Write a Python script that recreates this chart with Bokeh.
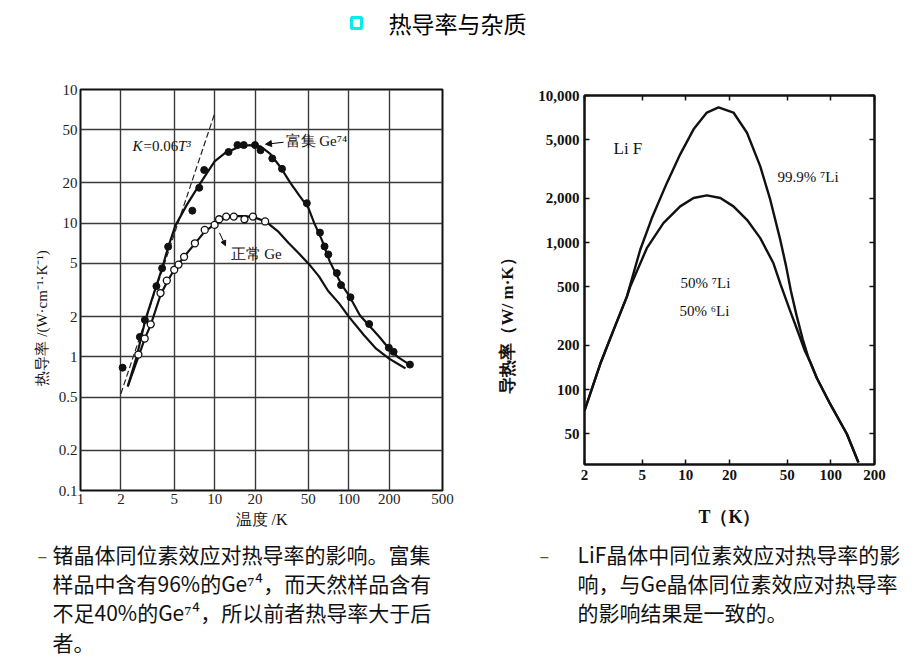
import math
from bokeh.plotting import figure
from bokeh.layouts import column, row
from bokeh.models import Range1d, FixedTicker, LogAxis, Label, Arrow, NormalHead, Title
from bokeh.core.properties import value
from bokeh.embed import file_html
from bokeh.resources import INLINE

# ---------------- data ----------------
title_text = "热导率与杂质"

# Left chart: Ge thermal conductivity (W/cm/K) vs temperature (K)
ge_x_ticks = [1, 2, 5, 10, 20, 50, 100, 200, 500]
ge_y_ticks = [0.1, 0.2, 0.5, 1, 2, 5, 10, 20, 50, 100]
ge_y_labels = ["0.1", "0.2", "0.5", "1", "2", "5", "10", "20", "50", "10"]

rich_dots_T = [2.06, 2.77, 3.02, 3.68, 4.06, 4.5, 6.82, 7.68, 8.36, 12.7, 14.8, 16.5, 20, 22,
               26.9, 31.8, 48.7, 61, 66, 70.4, 81.5, 87.6, 103, 142, 199, 216, 286]
rich_dots_K = [0.83, 1.41, 1.89, 3.38, 4.6, 6.67, 12.4, 18.4, 25, 34.1, 38.4, 38.4, 38.4, 35.1,
               30.5, 25.5, 14.1, 8.5, 6.7, 5.84, 4.23, 3.44, 2.79, 1.76, 1.17, 1.09, 0.875]

normal_dots_T = [2.7, 3.01, 3.34, 3.95, 4.4, 5.0, 5.38, 5.92, 7.13, 8.44, 10, 10.8, 12.2, 13.9,
                 16.7, 19.3, 23.8]
normal_dots_K = [1.04, 1.37, 1.75, 3.0, 3.72, 4.48, 4.9, 5.6, 7.07, 8.9, 9.7, 10.7, 11.2, 11.2,
                 10.7, 11.2, 10.3]

rich_curve_T = [2.25, 2.62, 3.05, 3.6, 4.06, 4.5, 5.08, 6.2, 7.85, 10, 12, 15, 18, 22, 26, 31,
                36.7, 43, 50, 55.3, 63, 72, 80, 88, 100, 121, 143, 170, 200, 231, 286]
rich_curve_K = [0.6, 1.0, 1.9, 3.2, 4.6, 6.6, 9.5, 13.7, 20, 29, 33.5, 37, 38.3, 37.5, 33, 26.2,
                20, 16, 13, 10, 7.5, 5.2, 4.2, 3.5, 2.9, 2.05, 1.7, 1.4, 1.15, 1.0, 0.87]

normal_curve_T = [2.25, 2.7, 3.0, 3.35, 3.95, 4.4, 5.0, 6.0, 7.1, 8.4, 10, 12, 14, 17, 20, 24,
                  30, 35.6, 42, 50, 60, 70, 85, 100, 130, 160, 200, 235, 265]
normal_curve_K = [0.6, 1.0, 1.35, 1.75, 2.9, 3.6, 4.5, 5.7, 7.0, 8.6, 9.8, 10.9, 11.3, 11.3, 11.0,
                  10.3, 8.6, 7.1, 6.0, 5.0, 4.0, 3.12, 2.5, 2.0, 1.45, 1.15, 0.97, 0.88, 0.82]

t3_line_T = [2, 10]
t3_line_K = [0.53, 66]

# Right chart: LiF thermal conductivity (W/m/K) vs T (K)
lif_x_ticks = [2, 5, 10, 20, 50, 100, 200]
lif_y_ticks = [50, 100, 200, 500, 1000, 2000, 5000, 10000]
lif_y_labels = ["50", "100", "200", "500", "1,000", "2,000", "5,000", "10,000"]

li7_T = [2.0, 2.57, 3.17, 3.92, 4.84, 5.83, 7.4, 9.14, 11.3, 13.96, 16.8, 21.3, 26.4, 32.6,
         38.2, 44.8, 49, 53, 58, 64, 70, 80, 98.9, 129, 155]
li7_K = [72, 150, 254, 429, 891, 1468, 2546, 3980, 5890, 7660, 8300, 7660, 5580, 3300,
         1958, 1043, 700, 470, 320, 220, 165, 120, 80, 50, 32]

li50_T = [2.0, 2.57, 3.17, 3.92, 4.13, 5.38, 7.0, 9.14, 11.3, 13.96, 17.3, 21.3, 26.4, 32.6,
          40.2, 45, 52, 60, 66, 72, 80, 98.9, 129, 155]
li50_K = [72, 150, 254, 429, 500, 916, 1357, 1763, 2011, 2094, 2011, 1763, 1429, 1072,
          723, 520, 350, 240, 185, 155, 120, 80, 50, 32]

left_lines = ["锗晶体同位素效应对热导率的影响。富集",
              "样品中含有96%的Ge⁷⁴，而天然样品含有",
              "不足40%的Ge⁷⁴，所以前者热导率大于后",
              "者。"]
right_lines = ["LiF晶体中同位素效应对热导率的影",
               "响，与Ge晶体同位素效应对热导率",
               "的影响结果是一致的。"]

SERIF = "Liberation Serif"
CJK = "Noto Sans CJK SC"

# ---------------- title strip ----------------
t = figure(width=923, height=70, x_range=Range1d(0, 923), y_range=Range1d(70, 0),
           output_backend="svg", toolbar_location=None, min_border=0,
           x_axis_type=None, y_axis_type=None)
t.outline_line_color = None
t.rect(x=[356], y=[22.5], width=10, height=11, fill_color="white",
       line_color="#00eeee", line_width=3)
t.text(x=[388], y=[22], text=[title_text], text_font=value(CJK), text_font_size="23px",
       text_baseline="middle", text_align="left", text_color="black")

# ---------------- left chart ----------------
p1 = figure(width=470, height=460, x_axis_type="log", y_axis_type="log",
            x_range=Range1d(1, 500), y_range=Range1d(0.1, 100),
            output_backend="svg", toolbar_location=None,
            min_border_left=80, min_border_right=28, min_border_top=19, min_border_bottom=38)
p1.xaxis.ticker = FixedTicker(ticks=ge_x_ticks)
p1.yaxis.ticker = FixedTicker(ticks=ge_y_ticks)
p1.xgrid.ticker = FixedTicker(ticks=ge_x_ticks)
p1.ygrid.ticker = FixedTicker(ticks=ge_y_ticks)
p1.xaxis.major_label_overrides = {v: str(v) for v in ge_x_ticks}
p1.yaxis.major_label_overrides = dict(zip(ge_y_ticks, ge_y_labels))
for ax in (p1.xaxis[0], p1.yaxis[0]):
    ax.major_tick_line_color = None
    ax.minor_tick_line_color = None
    ax.major_tick_in = 0
    ax.major_tick_out = 0
    ax.axis_line_color = None
    ax.major_label_text_font = SERIF
    ax.major_label_text_font_size = "15px"
    ax.major_label_text_color = "#222222"
    ax.major_label_standoff = 3
    ax.axis_label_text_font = SERIF
    ax.axis_label_text_font_style = "normal"
    ax.axis_label_text_color = "#111111"
p1.xaxis[0].axis_label = "温度 /K"
p1.xaxis[0].axis_label_text_font_size = "16px"
p1.xaxis[0].axis_label_standoff = 4
p1.add_layout(Title(text="热导率 /(W·cm⁻¹·K⁻¹)", align="left", offset=105, standoff=11,
                    text_font=SERIF, text_font_size="15px", text_font_style="normal",
                    text_color="#111111"), "left")
for g in (p1.xgrid, p1.ygrid):
    g.grid_line_color = "#3a3a3a"
    g.grid_line_width = 1.4
    g.minor_grid_line_color = None
p1.outline_line_color = "#111111"
p1.outline_line_width = 2

p1.line(t3_line_T, t3_line_K, line_color="#222222", line_width=1.2, line_dash="6 3")
p1.line(rich_curve_T, rich_curve_K, line_color="#111111", line_width=2.2)
p1.line(normal_curve_T, normal_curve_K, line_color="#111111", line_width=2.2)
p1.scatter(rich_dots_T, rich_dots_K, size=7, fill_color="#111111", line_color="#111111")
p1.scatter(normal_dots_T, normal_dots_K, size=7, fill_color="white", line_color="#111111",
           line_width=1.3)


def l_xy(px, py):
    fx = (px - 80) / 362.0
    fy = (492 - py) / 403.0
    return 10 ** (fx * math.log10(500)), 10 ** (-1 + 3 * fy)


def add_label(p, xy, text, size="15px", font=SERIF, style="normal", align="left"):
    p.add_layout(Label(x=xy[0], y=xy[1], text=text, text_font=font, text_font_size=size,
                       text_font_style=style, text_align=align, text_baseline="middle",
                       text_color="#111111"))


add_label(p1, l_xy(132, 146), "K", style="italic")
add_label(p1, l_xy(143, 146), "=0.06")
add_label(p1, l_xy(177.5, 146), "T³", style="italic")
add_label(p1, l_xy(285, 141), "富集 Ge⁷⁴")
add_label(p1, l_xy(230, 254), "正常 Ge")
s = l_xy(283, 142)
e = l_xy(265, 144)
p1.add_layout(Arrow(x_start=s[0], y_start=s[1], x_end=e[0], y_end=e[1], line_width=1.2,
                    end=NormalHead(size=6, fill_color="#111111", line_color="#111111")))
s = l_xy(219, 233)
e = l_xy(225, 246)
p1.add_layout(Arrow(x_start=s[0], y_start=s[1], x_end=e[0], y_end=e[1], line_width=1,
                    end=NormalHead(size=5, fill_color="#111111", line_color="#111111")))

# ---------------- right chart ----------------
p2 = figure(width=453, height=460, x_axis_type="log", y_axis_type="log",
            x_range=Range1d(2, 200), y_range=Range1d(31, 10000),
            output_backend="svg", toolbar_location=None,
            min_border_left=114, min_border_right=49, min_border_top=25, min_border_bottom=66)
p2.grid.visible = False
bottom_ax = p2.below[0]
left_ax = p2.left[0]
bottom_ax.ticker = FixedTicker(ticks=lif_x_ticks)
left_ax.ticker = FixedTicker(ticks=lif_y_ticks)
bottom_ax.major_label_overrides = {v: str(v) for v in lif_x_ticks}
left_ax.major_label_overrides = dict(zip(lif_y_ticks, lif_y_labels))
top_ax = LogAxis(ticker=FixedTicker(ticks=lif_x_ticks),
                 major_label_overrides={v: "" for v in lif_x_ticks})
right_ax = LogAxis(ticker=FixedTicker(ticks=lif_y_ticks),
                   major_label_overrides={v: "" for v in lif_y_ticks})
p2.add_layout(top_ax, "above")
p2.add_layout(right_ax, "right")
for ax in (bottom_ax, left_ax, top_ax, right_ax):
    ax.major_tick_in = 5
    ax.major_tick_out = 0
    ax.major_tick_line_width = 1.5
    ax.major_tick_line_color = "#111111"
    ax.minor_tick_line_color = None
    ax.axis_line_color = "#111111"
    ax.axis_line_width = 2
    ax.major_label_text_font = SERIF
    ax.major_label_text_font_style = "bold"
    ax.major_label_text_font_size = "15px"
    ax.major_label_text_color = "#111111"
    ax.major_label_standoff = 5
    ax.axis_label_text_font = SERIF
    ax.axis_label_text_font_style = "bold"
    ax.axis_label_text_color = "#111111"
top_ax.major_label_standoff = 0
right_ax.major_label_standoff = 0
top_ax.major_label_text_color = None
right_ax.major_label_text_color = None
p2.add_layout(Title(text="导热率（W/ m·K）", align="left", offset=71, standoff=37,
                    text_font=SERIF, text_font_size="17px", text_font_style="bold",
                    text_color="#111111"), "left")
bottom_ax.axis_label = "T（K）"
bottom_ax.axis_label_text_font_size = "18px"
bottom_ax.axis_label_standoff = 24
p2.outline_line_color = "#111111"
p2.outline_line_width = 2

p2.line(li7_T, li7_K, line_color="#111111", line_width=2.4)
p2.line(li50_T, li50_K, line_color="#111111", line_width=2.4)


def r_xy(px, py):
    fx = (px - 584) / 290.0
    fy = (464 - py) / 369.0
    return 2 * 10 ** (2 * fx), 31 * 10 ** (fy * math.log10(10000 / 31))


add_label(p2, r_xy(613, 148), "Li F", size="17px")
add_label(p2, r_xy(777, 176), "99.9% ⁷Li", size="15px")
add_label(p2, r_xy(680, 282), "50% ⁷Li", size="15px")
add_label(p2, r_xy(679, 310), "50% ⁶Li", size="15px")

# ---------------- bottom text ----------------
b = figure(width=923, height=139, x_range=Range1d(0, 923), y_range=Range1d(139, 0),
           output_backend="svg", toolbar_location=None, min_border=0,
           x_axis_type=None, y_axis_type=None)
b.outline_line_color = None
b.text(x=[37, 539], y=[24, 24], text=["–", "–"], text_font=value(CJK), text_font_size="18px",
       text_baseline="middle", text_align="left", text_color="#4f6228")
b.text(x=[52] * len(left_lines), y=[23, 52, 81, 111][:len(left_lines)], text=left_lines,
       text_font=value(CJK), text_font_size="21px", text_baseline="middle", text_align="left",
       text_color="#111111")
b.text(x=[577] * len(right_lines), y=[23, 52, 81][:len(right_lines)], text=right_lines,
       text_font=value(CJK), text_font_size="21px", text_baseline="middle", text_align="left",
       text_color="#111111")

layout = column(t, row(column(p1), column(p2)), b)
open("out.html", "w").write(file_html(layout, INLINE))
